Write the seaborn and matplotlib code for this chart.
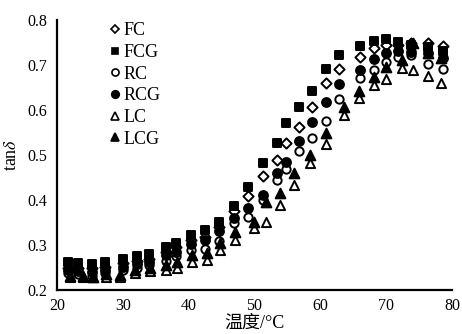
import numpy as np
import pandas as pd
import matplotlib
matplotlib.use("Agg")
import matplotlib.pyplot as plt
import seaborn as sns
from matplotlib.lines import Line2D

# ---- data ----
T_main = [21.7, 23.2, 25.3, 27.3, 30.1, 32.1, 34.0, 36.5, 38.1, 40.3, 42.5, 44.6, 46.9,
          49.0, 51.3, 53.4, 54.8, 56.8, 58.8, 60.8, 62.9, 66.1, 68.2, 69.9, 71.8, 73.8, 76.3, 78.6]
FCG = [0.262, 0.260, 0.258, 0.262, 0.268, 0.275, 0.280, 0.295, 0.304, 0.322, 0.333, 0.352, 0.387,
       0.428, 0.482, 0.526, 0.572, 0.606, 0.643, 0.691, 0.722, 0.742, 0.753, 0.757, 0.752, 0.745, 0.740, 0.732]
FC = [0.250, 0.250, 0.248, 0.252, 0.260, 0.265, 0.270, 0.285, 0.295, 0.311, 0.318, 0.341, 0.375,
      0.409, 0.453, 0.489, 0.526, 0.563, 0.606, 0.661, 0.691, 0.718, 0.737, 0.744, 0.745, 0.748, 0.748, 0.742]
RCG = [0.245, 0.243, 0.240, 0.245, 0.252, 0.258, 0.262, 0.278, 0.285, 0.302, 0.311, 0.332, 0.359,
       0.382, 0.411, 0.459, 0.485, 0.532, 0.574, 0.618, 0.658, 0.690, 0.713, 0.726, 0.732, 0.730, 0.727, 0.715]
RC = [0.238, 0.235, 0.232, 0.238, 0.245, 0.250, 0.255, 0.265, 0.276, 0.290, 0.292, 0.309, 0.348,
      0.363, 0.400, 0.444, 0.470, 0.510, 0.537, 0.576, 0.624, 0.672, 0.690, 0.707, 0.717, 0.722, 0.702, 0.691]

T_tri = [21.9, 24.0, 25.5, 27.4, 29.6, 31.9, 34.1, 36.6, 38.2, 40.5, 42.8, 44.8, 47.0,
         50.0, 51.8, 53.9, 56.0, 58.5, 60.8, 63.6, 65.8, 68.2, 70.0, 72.4, 74.0, 76.3, 78.3]
LCG = [0.232, 0.232, 0.230, 0.235, 0.233, 0.245, 0.250, 0.255, 0.263, 0.278, 0.282, 0.304, 0.330,
       0.352, 0.396, 0.415, 0.461, 0.500, 0.548, 0.607, 0.643, 0.674, 0.696, 0.711, 0.748, 0.726, 0.715]
LC = [0.228, 0.228, 0.228, 0.228, 0.228, 0.238, 0.242, 0.244, 0.249, 0.263, 0.267, 0.289, 0.312,
      0.337, 0.352, 0.389, 0.433, 0.482, 0.524, 0.589, 0.626, 0.656, 0.670, 0.693, 0.689, 0.676, 0.660]

labels = ["FC", "FCG", "RC", "RCG", "LC", "LCG"]
x_ticks = [20, 30, 40, 50, 60, 70, 80]
y_ticks = [0.2, 0.3, 0.4, 0.5, 0.6, 0.7, 0.8]

series = {
    "FC": (T_main, FC), "FCG": (T_main, FCG), "RC": (T_main, RC),
    "RCG": (T_main, RCG), "LC": (T_tri, LC), "LCG": (T_tri, LCG),
}
style = {
    "FC": ("D", "white", 5.2), "FCG": ("s", "black", 5.8), "RC": ("o", "white", 6.0),
    "RCG": ("o", "black", 6.4), "LC": ("^", "white", 6.6), "LCG": ("^", "black", 7.0),
}

sns.set_theme(style="white")
plt.rcParams["font.family"] = ["Liberation Serif", "Noto Sans CJK SC"]
plt.rcParams["mathtext.fontset"] = "stix"

fig = plt.figure(figsize=(4.62, 3.34), dpi=100)
ax = fig.add_axes([57 / 462, 44 / 334, 395 / 462, 270 / 334])

order = ["RC", "LC", "FC", "LCG", "RCG", "FCG"]
for name in order:
    xs, ys = series[name]
    df = pd.DataFrame({"T": xs, "tan": ys})
    m, fc, ms = style[name]
    sns.scatterplot(data=df, x="T", y="tan", marker=m, s=ms ** 2, color=fc,
                    edgecolor="black", linewidth=1.4, ax=ax, zorder=3, legend=False)

ax.set_xlim(20, 80)
ax.set_ylim(0.2, 0.8)
ax.set_xticks(x_ticks)
ax.set_yticks(y_ticks)
ax.set_xticklabels([str(v) for v in x_ticks])
ax.set_yticklabels([f"{v:.1f}" for v in y_ticks])
for s in ["top", "right"]:
    ax.spines[s].set_visible(False)
for s in ["left", "bottom"]:
    ax.spines[s].set_color("black")
    ax.spines[s].set_linewidth(1.6)
ax.tick_params(axis="both", direction="in", length=4, width=1.2, colors="black",
               labelsize=11.5)
ax.tick_params(axis="x", pad=6)
ax.tick_params(axis="y", pad=7)
ax.set_xlabel("温度/°C", fontsize=13, labelpad=0, color="black")
ax.set_ylabel(r"tan$\delta$", fontsize=13, labelpad=5, color="black")

handles = []
for name in labels:
    m, fc, ms = style[name]
    handles.append(Line2D([], [], linestyle="none", marker=m, markersize=ms * 0.85,
                          markerfacecolor=fc, markeredgecolor="black", markeredgewidth=1.2))
leg = ax.legend(handles, labels, loc="upper left", bbox_to_anchor=(0.124, 1.005),
                borderaxespad=0, frameon=False, fontsize=13, handlelength=0.6,
                handletextpad=0.15, labelspacing=0.26, borderpad=0.2)
for t in leg.get_texts():
    t.set_color("black")

fig.savefig("out.png", dpi=100, facecolor="white")
